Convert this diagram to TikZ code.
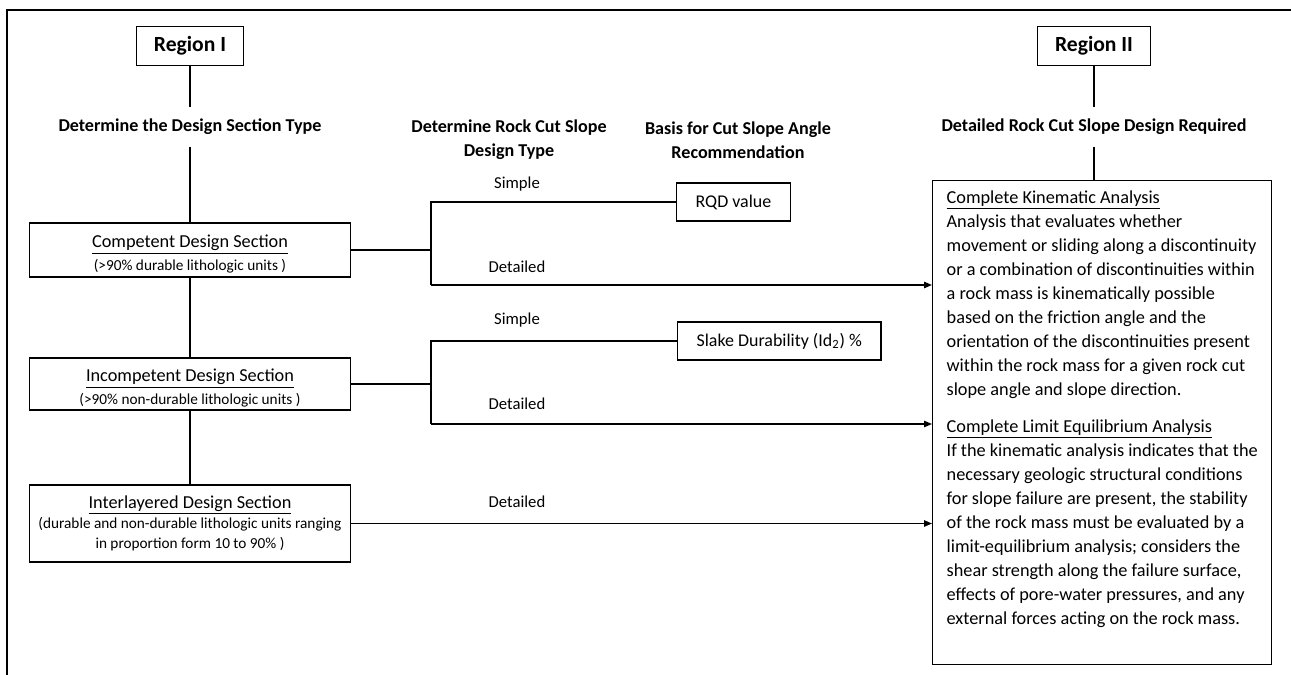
\documentclass[tikz,border=0pt]{standalone}
\usepackage{fontspec}
\setmainfont{Carlito}
\usetikzlibrary{arrows.meta}

\begin{document}
\begin{tikzpicture}[
		x=0.02cm, y=-0.02cm,
		line width=0.75pt,
		region/.style={draw, font=\fontsize{12.3}{14}\bfseries\selectfont, minimum height=0.79cm, inner xsep=0.35cm},
		header/.style={font=\fontsize{10.3}{13.66}\bfseries\selectfont, align=center},
		hdrline/.style={header, text height=7.5pt, text depth=2.6pt, inner ysep=0.2cm},
		secbox/.style={draw, align=center, minimum width=6.42cm, inner sep=0pt, font=\fontsize{8.7}{11.6}\selectfont},
		branch/.style={font=\fontsize{9.5}{12}\selectfont},
		basis/.style={draw, anchor=west, minimum height=0.76cm, inner xsep=0.38cm, font=\fontsize{10.2}{12}\selectfont},
		arr/.style={-{Triangle[length=4.5pt,width=3.6pt]}}
	]
	\useasboundingbox (0,0) rectangle (1291,675);
	\draw[line width=1.6pt] (7,675) -- (7,10) -- (1291,10);

	\node[region] (reg1) at (190,46) {Region I};
	\node[hdrline] (hdr1) at (190,127) {Determine the Design Section Type};
	\node[secbox, minimum height=1.08cm] (comp) at (190,250)
		{\rule{0pt}{12pt}{\fontsize{10.4}{11.6}\selectfont\underline{Competent Design Section}}\\[1.6pt] (>90\% durable lithologic units )};
	\node[secbox, minimum height=1.04cm] (incomp) at (190,384)
		{\rule{0pt}{12pt}{\fontsize{10.4}{11.6}\selectfont\underline{Incompetent Design Section}}\\[1.6pt] (>90\% non-durable lithologic units )};
	\node[secbox, minimum height=1.54cm] (inter) at (190,523.5)
		{{\fontsize{10.4}{11.6}\selectfont\underline{Interlayered Design Section}}\\ (durable and non-durable lithologic units ranging\\ in proportion form 10 to 90\% )};

	\node[header] (hdr2) at (509,140) {Determine Rock Cut Slope\\ Design Type};
	\node[header] (hdr3) at (738,140) {Basis for Cut Slope Angle\\ Recommendation};

	\node[region] (reg2) at (1094,46) {Region II};
	\node[hdrline] (hdr4) at (1094,127) {Detailed Rock Cut Slope Design Required};

	\node[draw, anchor=north west, minimum width=6.78cm, minimum height=9.68cm] (big) at (932,180) {};
	\node[anchor=north west, align=left, inner xsep=0.28cm, inner ysep=0.2cm, font=\fontsize{10.4}{13.66}\selectfont] (bigtxt) at (big.north west)
		{\underline{Complete Kinematic Analysis}\\
		Analysis that evaluates whether\\
		movement or sliding along a discontinuity\\
		or a combination of discontinuities within\\
		a rock mass is kinematically possible\\
		based on the friction angle and the\\
		orientation of the discontinuities present\\
		within the rock mass for a given rock cut\\
		slope angle and slope direction.\\[7.4pt]
		\underline{Complete Limit Equilibrium Analysis}\\
		If the kinematic analysis indicates that the\\
		necessary geologic structural conditions\\
		for slope failure are present, the stability\\
		of the rock mass must be evaluated by a\\
		limit-equilibrium analysis; considers the\\
		shear strength along the failure surface,\\
		effects of pore-water pressures, and any\\
		external forces acting on the rock mass.};

	\node[basis] (rqd) at (676,202) {RQD value};
	\node[basis] (slake) at (677,341) {Slake Durability (Id\textsubscript{2}) \%};

	\node[branch] (simple1) at (517,184) {Simple};
	\node[branch] (detail1) at (517,267) {Detailed};
	\node[branch] (simple2) at (517,320) {Simple};
	\node[branch] (detail2) at (517,404) {Detailed};
	\node[branch] (detail3) at (517,502) {Detailed};

	\coordinate (d1) at (431,285);
	\coordinate (d2) at (431,424);

	\draw (reg1) -- (hdr1);
	\draw (hdr1) -- (comp);
	\draw (comp) -- (incomp);
	\draw (incomp) -- (inter);
	\draw (reg2.south) -- (reg2.south |- hdr4.north);
	\draw (hdr4.south) -- (hdr4.south |- big.north);

	\draw (comp.east) -- (comp.east -| d1);
	\draw (rqd.west) -| (d1);
	\draw[arr] (d1) -- (d1 -| big.west);
	\draw (incomp.east) -- (incomp.east -| d2);
	\draw (slake.west) -| (d2);
	\draw[arr] (d2) -- (d2 -| big.west);
	\draw[arr] (inter.east) -- (inter.east -| big.west);
\end{tikzpicture}
\end{document}
